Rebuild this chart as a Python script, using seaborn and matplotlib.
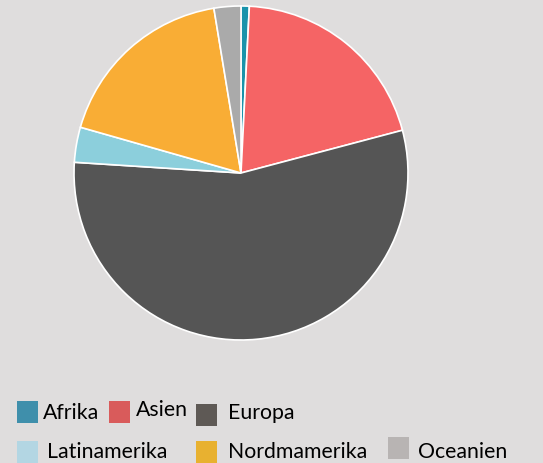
import matplotlib
matplotlib.use("Agg")
import matplotlib.pyplot as plt
import seaborn as sns
from matplotlib.patches import Rectangle

regions = ["Afrika", "Asien", "Europa", "Latinamerika", "Nordamerika", "Oceanien"]
shares = [0.8, 20.1, 55.2, 3.4, 18.0, 2.6]
legend_labels = ["Afrika", "Asien", "Europa", "Latinamerika", "Nordmamerika", "Oceanien"]
pie_colors = ["#1a93ab", "#f56465", "#555555", "#8ccfdc", "#f9ad35", "#aaaaaa"]
legend_colors = ["#3f8fab", "#d95b5b", "#5e5955", "#b3d6e3", "#e8b130", "#b8b4b3"]

sns.set_style("white")
plt.rcParams['font.family'] = ['Lato', 'DejaVu Sans']
bg = "#dfdddd"
W, H = 543, 463
fig = plt.figure(figsize=(W / 100, H / 100), dpi=100, facecolor=bg)
ax = fig.add_axes([0, 0, 1, 1])
ax.set_facecolor(bg)
ax.set_xlim(0, W)
ax.set_ylim(0, H)
ax.axis("off")

ax.pie(shares, colors=pie_colors, startangle=90, counterclock=False,
       center=(241, H - 173), radius=167,
       wedgeprops=dict(edgecolor="white", linewidth=1.2))
ax.set_xlim(0, W)
ax.set_ylim(0, H)
ax.set_aspect("equal")

# legend entries: (square x, square top y, text x, text center y) in pixel coords
layout = [
    (17, 401, 43, 413),
    (109, 401, 136, 410),
    (196, 404, 228, 413),
    (17, 441, 47, 452),
    (196, 441, 228, 452),
    (388, 437, 418, 452),
]
for (sx, sy, tx, ty), lab, col in zip(layout, legend_labels, legend_colors):
    ax.add_patch(Rectangle((sx, H - sy - 22), 21, 22, facecolor=col, edgecolor="none"))
    ax.text(tx, H - ty, lab, fontsize=15.3, va="center", ha="left", color="black")

fig.savefig("out.png", dpi=100, facecolor=bg)
